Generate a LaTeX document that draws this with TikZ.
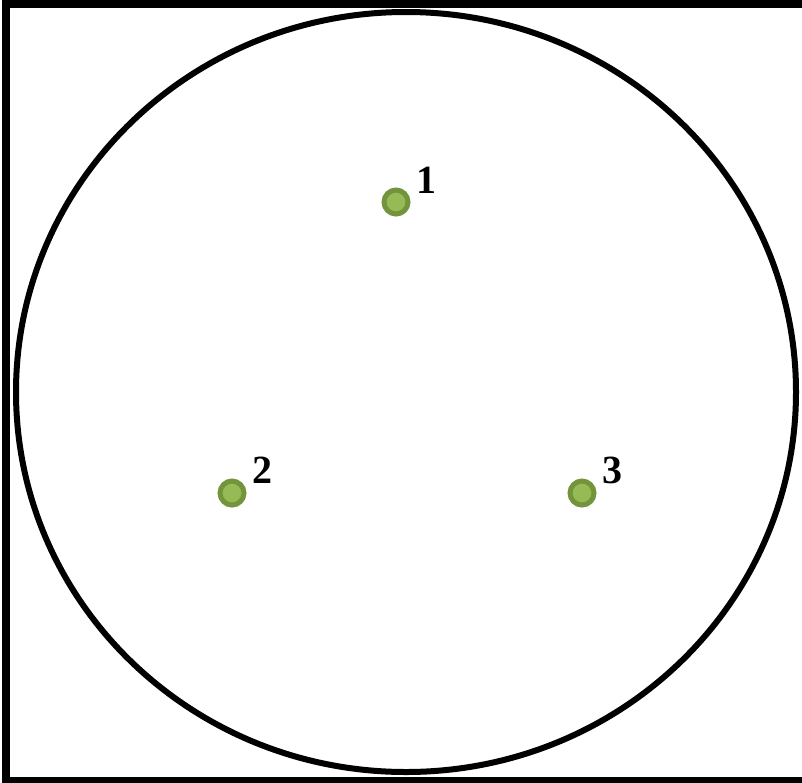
\documentclass[tikz,border=0pt]{standalone}
\usepackage{fontspec}
\setmainfont{Liberation Serif}
\usetikzlibrary{positioning}
\definecolor{dotring}{RGB}{115,148,58}
\definecolor{dotcore}{RGB}{150,186,86}

\begin{document}
\begin{tikzpicture}[
    x=1pt, y=-1pt,
    node distance=0pt,
    dot/.style={circle, draw=dotring, fill=dotcore, line width=5pt, minimum size=24pt, inner sep=0pt},
    lbl/.style={font=\fontsize{40}{40}\selectfont\bfseries, inner sep=0pt}
]
\path[use as bounding box, clip] (0,0) rectangle (802,782);

% Frame and boundary
\draw[line width=8pt] (6,4) rectangle (810,781);
\draw[line width=6pt] (406,392) ellipse [x radius=390, y radius=380];

% Points
\node[dot] (d1) at (396,202) {};
\node[dot] (d2) at (232,493) {};
\node[dot] (d3) at (582,493) {};

% Labels
\node[lbl, above right=-2pt and 10pt of d1] (l1) {1};
\node[lbl, above right=-1pt and 10pt of d2] (l2) {2};
\node[lbl, above right=-1pt and 10pt of d3] (l3) {3};

\end{tikzpicture}
\end{document}
